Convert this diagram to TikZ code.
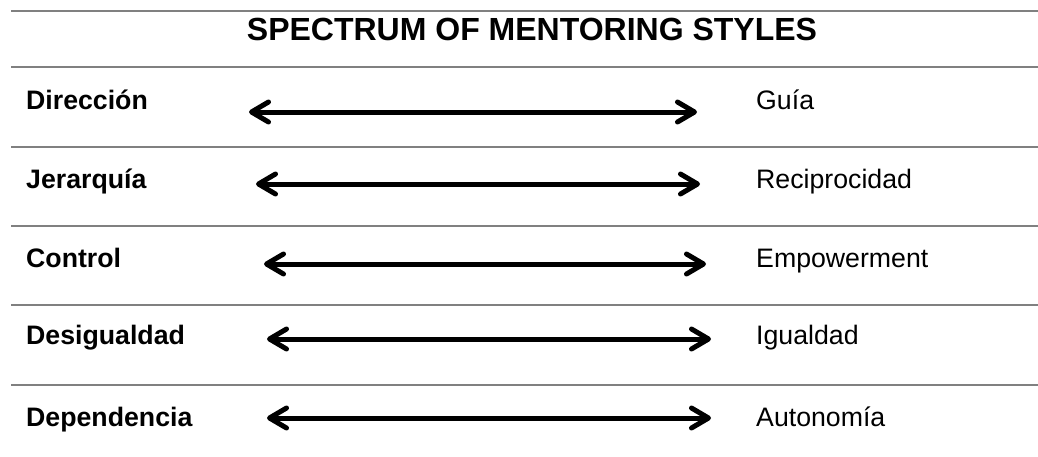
\documentclass[tikz,border=0pt]{standalone}
\usepackage{fontspec}
\setmainfont{Liberation Sans}
\usetikzlibrary{arrows.meta}
\definecolor{rulegray}{RGB}{128,128,128}
\tikzset{
  specbarb/.tip={Straight Barb[length=17pt,width=20pt,line cap=round,line join=round]}
}
\begin{document}
\begin{tikzpicture}[x=1pt,y=-1pt,
  rule/.style={draw=rulegray,line width=2pt},
  titletext/.style={anchor=base,inner sep=0pt,font=\fontsize{32}{36}\selectfont\bfseries},
  leftlab/.style={anchor=base west,inner sep=0pt,font=\fontsize{26.7}{30}\selectfont\bfseries},
  rightlab/.style={anchor=base west,inner sep=0pt,font=\fontsize{26.7}{30}\selectfont},
  spec/.style={line width=5pt,specbarb-specbarb}]
\useasboundingbox (0,0) rectangle (1038,456);

% horizontal rules
\foreach \y in {11,67,147,226,305,385}
  \draw[rule] (11,\y) -- (1038,\y);

% title
\node[titletext] (title) at (532,40) {SPECTRUM OF MENTORING STYLES};

% rows: left term, spectrum arrow, right term
\node[leftlab] (l1) at (26,109) {Dirección};
\node[rightlab] (r1) at (756,109) {Guía};
\coordinate (a1l) at (249,112);
\coordinate (a1r) at (697,112);
\draw[spec] (a1l) -- (a1r);

\node[leftlab] (l2) at (26,188) {Jerarquía};
\node[rightlab] (r2) at (756,188) {Reciprocidad};
\coordinate (a2l) at (256,184);
\coordinate (a2r) at (700,184);
\draw[spec] (a2l) -- (a2r);

\node[leftlab] (l3) at (26,267) {Control};
\node[rightlab] (r3) at (756,267) {Empowerment};
\coordinate (a3l) at (264,264);
\coordinate (a3r) at (706,264);
\draw[spec] (a3l) -- (a3r);

\node[leftlab] (l4) at (26,344) {Desigualdad};
\node[rightlab] (r4) at (756,344) {Igualdad};
\coordinate (a4l) at (267,339);
\coordinate (a4r) at (711,339);
\draw[spec] (a4l) -- (a4r);

\node[leftlab] (l5) at (26,426) {Dependencia};
\node[rightlab] (r5) at (756,426) {Autonomía};
\coordinate (a5l) at (267,418);
\coordinate (a5r) at (711,418);
\draw[spec] (a5l) -- (a5r);
\end{tikzpicture}
\end{document}
